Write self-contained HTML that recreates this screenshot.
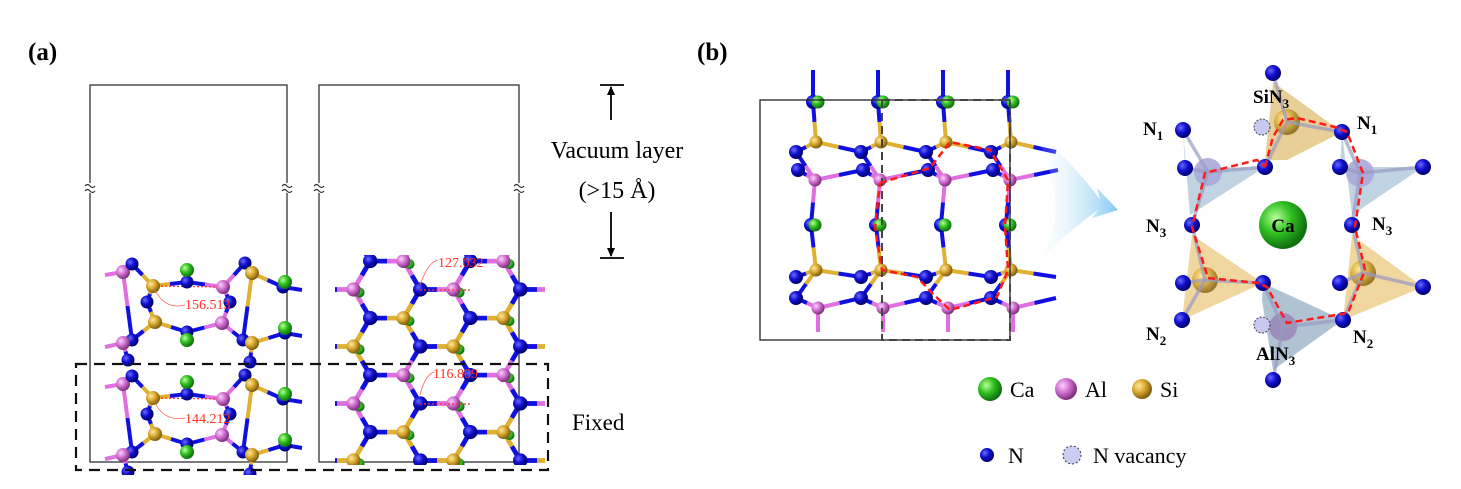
<!DOCTYPE html>
<html><head><meta charset="utf-8"><style>
html,body{margin:0;padding:0;background:#fff;width:1461px;height:489px;overflow:hidden;}
svg{display:block;}
text{font-family:"Liberation Serif",serif;}
</style></head><body>
<svg id="s" width="1461" height="489" viewBox="0 0 1461 489" xmlns="http://www.w3.org/2000/svg">
<defs>
<radialGradient id="gB" cx="35%" cy="35%" r="65%"><stop offset="0" stop-color="#6a6aff"/><stop offset=".5" stop-color="#1010d0"/><stop offset="1" stop-color="#000070"/></radialGradient>
<radialGradient id="gG" cx="35%" cy="35%" r="65%"><stop offset="0" stop-color="#b8ff9a"/><stop offset=".5" stop-color="#30c020"/><stop offset="1" stop-color="#107010"/></radialGradient>
<radialGradient id="gP" cx="35%" cy="35%" r="65%"><stop offset="0" stop-color="#ffd0ff"/><stop offset=".5" stop-color="#d070d0"/><stop offset="1" stop-color="#803080"/></radialGradient>
<radialGradient id="gY" cx="35%" cy="35%" r="65%"><stop offset="0" stop-color="#ffe9a0"/><stop offset=".5" stop-color="#d8a830"/><stop offset="1" stop-color="#806010"/></radialGradient>
<linearGradient id="arr" x1="0" y1="0" x2="1" y2="0"><stop offset="0" stop-color="#fff" stop-opacity="0"/><stop offset="1" stop-color="#6cc0f0"/></linearGradient>
<clipPath id="cR"><rect x="335" y="255" width="210" height="210"/></clipPath>
<clipPath id="cA"><rect x="0" y="0" width="700" height="475"/></clipPath>
</defs>

<!-- (a) -->
<text x="28" y="60" font-size="25" font-weight="bold">(a)</text>
<g stroke="#333" stroke-width="1.3" fill="none">
<rect x="90" y="85" width="197" height="377"/>
<rect x="319" y="85" width="200" height="377"/>
</g>
<g id="breaks"></g>
<g clip-path="url(#cA)"><g id="la"></g></g>
<g id="ra" clip-path="url(#cR)"></g>
<rect x="76" y="364" width="472" height="106" fill="none" stroke="#111" stroke-width="2.2" stroke-dasharray="11,7"/>
<g stroke="#000" stroke-width="1.8">
<line x1="600" y1="85" x2="624" y2="85"/><line x1="611" y1="87" x2="611" y2="120"/>
<line x1="600" y1="258" x2="624" y2="258"/><line x1="611" y1="212" x2="611" y2="256"/>
</g>
<path d="M611 86 l-4 9 h8z M611 257 l-4 -9 h8z" fill="#000"/>
<text x="617" y="158" font-size="24" text-anchor="middle">Vacuum layer</text>
<text x="617" y="198" font-size="24" text-anchor="middle">(&gt;15 Å)</text>
<text x="572" y="430" font-size="23">Fixed</text>
<g fill="#ff3020" font-size="14">
<text x="185" y="309">156.513</text>
<text x="185" y="423">144.212</text>
<text x="438" y="267">127.032</text>
<text x="433" y="378">116.809</text>
</g>
<g fill="none" stroke="#ff6050" stroke-width="0.8">
<path d="M155 290 Q165 310 185 305"/>
<path d="M155 403 Q165 422 185 418"/>
<path d="M420 285 Q428 262 438 260"/>
<path d="M420 395 Q425 375 434 372"/>
</g>

<!-- (b) -->
<text x="697" y="60" font-size="25" font-weight="bold">(b)</text>
<g id="lb"></g>
<rect x="760" y="100" width="250" height="240" fill="none" stroke="#222" stroke-width="1.3"/>
<path d="M882 100 H1010 V340 H882 Z" fill="none" stroke="#444" stroke-width="2" stroke-dasharray="8,5"/>
<polyline fill="none" stroke="#ff1a1a" stroke-width="2.5" stroke-dasharray="7,4" points="880,183 930,168 950,142 990,150 1008,180 1005,227 1008,270 997,297 950,310 932,293 917,277 882,270 875,227 880,183"/>
<path d="M1030 125 Q1080 170 1100 200 L1097 188 L1118 210 L1092 218 L1098 210 Q1070 230 1040 260 Q1075 205 1030 125Z" fill="url(#arr)" opacity=".85"/>

<g id="ring"></g>
<polyline fill="none" stroke="#ff1a1a" stroke-width="2.5" stroke-dasharray="7,4" points="1265,167 1273,137 1283,120 1297,118 1335,127 1347,132 1363,173 1355,227 1365,270 1348,313 1287,323 1267,287 1258,283 1208,278 1192,227 1205,173 1257,160 1265,167"/>
<g font-size="19" font-weight="bold">
<text x="1253" y="103">SiN<tspan font-size="13" dy="5">3</tspan></text>
<text x="1143" y="135">N<tspan font-size="13" dy="5">1</tspan></text>
<text x="1357" y="129">N<tspan font-size="13" dy="5">1</tspan></text>
<text x="1146" y="232">N<tspan font-size="13" dy="5">3</tspan></text>
<text x="1372" y="230">N<tspan font-size="13" dy="5">3</tspan></text>
<text x="1146" y="340">N<tspan font-size="13" dy="5">2</tspan></text>
<text x="1353" y="343">N<tspan font-size="13" dy="5">2</tspan></text>
<text x="1256" y="360">AlN<tspan font-size="13" dy="5">3</tspan></text>
<text x="1283" y="232" text-anchor="middle">Ca</text>
</g>

<circle cx="990" cy="389" r="12" fill="url(#gG)"/>
<text x="1010" y="397" font-size="22">Ca</text>
<circle cx="1066" cy="389" r="11" fill="url(#gP)"/>
<text x="1085" y="397" font-size="22">Al</text>
<circle cx="1142" cy="389" r="10" fill="url(#gY)"/>
<text x="1160" y="397" font-size="22">Si</text>
<circle cx="987" cy="455" r="7" fill="url(#gB)"/>
<text x="1008" y="463" font-size="22">N</text>
<circle cx="1072" cy="455" r="9" fill="#ccccf0" stroke="#333" stroke-dasharray="2,2"/>
<text x="1093" y="463" font-size="22">N vacancy</text>
</svg>
<script>
const NS="http://www.w3.org/2000/svg";
function el(p,t,a){const e=document.createElementNS(NS,t);for(const k in a)e.setAttribute(k,a[k]);p.appendChild(e);return e;}
const G={B:"url(#gB)",G:"url(#gG)",P:"url(#gP)",Y:"url(#gY)"};
const C={B:"#1010e0",G:"#30c020",P:"#e070e0",Y:"#e0b030"};
function atom(p,x,y,t,r){el(p,"circle",{cx:x,cy:y,r:r||(t=="B"?6.5:7),fill:G[t]});}
function bond(p,a,b,w){
 const mx=(a[0]+b[0])/2,my=(a[1]+b[1])/2;
 el(p,"line",{x1:a[0],y1:a[1],x2:mx,y2:my,stroke:C[a[2]],"stroke-width":w||4});
 el(p,"line",{x1:mx,y1:my,x2:b[0],y2:b[1],stroke:C[b[2]],"stroke-width":w||4});
}
const br=document.getElementById("breaks");
[90,287,319,519].forEach(x=>{el(br,"rect",{x:x-6,y:183,width:12,height:10,fill:"#fff"});
 el(br,"path",{d:`M${x-5} 186 q2.5 -3 5 0 t5 0 M${x-5} 191 q2.5 -3 5 0 t5 0`,fill:"none",stroke:"#333","stroke-width":1.2});});
const la=document.getElementById("la");
for(const dy of [0,112]){
 const A={p1:[123,272,"P"],b1:[132,264,"B"],g1:[153,286,"Y"],bc:[187,282,"B"],gc:[187,270,"G"],p2:[223,287,"P"],b2:[245,263,"B"],g2:[252,273,"Y"],b3:[283,287,"B"],gr:[285,282,"G"],
 b4:[147,302,"B"],b5:[230,302,"B"],g3:[155,322,"Y"],b6:[187,332,"B"],gd:[187,340,"G"],p3:[222,323,"P"],
 b7:[132,340,"B"],p4:[123,343,"P"],b8:[243,340,"B"],g4:[252,343,"Y"],b9:[285,333,"B"],gr2:[285,328,"G"],
 l1:[105,275,"P"],l2:[105,347,"P"],r1:[302,290,"B"],r2:[302,336,"B"],b10:[128,360,"B"],b11:[250,362,"B"]};
 for(const k in A){A[k]=[A[k][0],A[k][1]+dy,A[k][2]];}
 const E=[["l1","p1"],["p1","b1"],["b1","g1"],["g1","bc"],["bc","p2"],["p2","b2"],["b2","g2"],["g2","b3"],["b3","r1"],["g1","b4"],["b4","g3"],["g3","b6"],["b6","p3"],["p3","b5"],["b5","p2"],["g3","b7"],["b7","p4"],["p4","l2"],["p3","b8"],["b8","g4"],["g4","b9"],["b9","r2"],["p4","b10"],["g4","b11"],["p1","b7"],["g2","b8"]];
 E.forEach(e=>bond(la,A[e[0]],A[e[1]]));
 el(la,"line",{x1:153,y1:286+dy,x2:223,y2:287+dy,stroke:"#ff3030","stroke-width":1.2,"stroke-dasharray":"2,2"});
 for(const k in A){if(k[0]=="l"||k[0]=="r")continue;atom(la,A[k][0],A[k][1],A[k][2]);}
}
const ra=document.getElementById("ra");
const R=33,edges=[],verts={};
for(let i=-2;i<=3;i++)for(let j=-2;j<=3;j++){
 const cx=437+50*i,cy=318+57*j+(Math.abs(i)%2?-28.5:0);
 const vs=[];for(let k=0;k<6;k++){const a=k*Math.PI/3;const x=Math.round((cx+R*Math.cos(a))*10)/10,y=Math.round((cy+R*Math.sin(a))*10)/10;
  const key=Math.round(x)+","+Math.round(y);const t=(k%2==0)?"B":((Math.round(y/57)%2==0)?"Y":"P");
  if(!verts[key])verts[key]=[x,y,t];vs.push(verts[key]);}
 for(let k=0;k<6;k++)edges.push([vs[k],vs[(k+1)%6]]);
}
edges.forEach(e=>bond(ra,e[0],e[1],4.5));
Object.values(verts).forEach(v=>{if(v[2]!="B")el(ra,"circle",{cx:v[0]+6,cy:v[1]+3,r:5,fill:G.G});});
Object.values(verts).forEach(v=>atom(ra,v[0],v[1],v[2],v[2]=="B"?7:7));
el(ra,"line",{x1:420,y1:290,x2:470,y2:290,stroke:"#ff3030","stroke-width":1.2,"stroke-dasharray":"2,2"});
el(ra,"line",{x1:420,y1:404,x2:470,y2:404,stroke:"#ff3030","stroke-width":1.2,"stroke-dasharray":"2,2"});
const lb=document.getElementById("lb");
for(const cx of [813,878,943,1008]){
 const P={t:[cx,70,"B"],b0:[cx,102,"B"],g0:[cx+5,102,"G"],g1:[cx+3,142,"Y"],bL:[cx-17,152,"B"],bR:[cx+48,152,"B"],bL2:[cx-15,170,"B"],bR2:[cx+50,170,"B"],p1:[cx+2,180,"P"],
 bm:[cx-2,225,"B"],gm:[cx+2,225,"G"],g2:[cx+3,270,"Y"],cL:[cx-17,277,"B"],cR:[cx+48,277,"B"],cL2:[cx-17,298,"B"],cR2:[cx+48,298,"B"],p2:[cx+5,308,"P"],pd:[cx+5,332,"P"]};
 const E=[["t","b0"],["b0","g1"],["g1","bL"],["g1","bR"],["bL2","p1"],["p1","bR2"],["p1","bm"],["bm","g2"],["g2","cL"],["g2","cR"],["cL2","p2"],["p2","cR2"],["p2","pd"],["bL","p1"],["g2","cL2"]];
 E.forEach(e=>bond(lb,P[e[0]],P[e[1]],4));
 ["b0","g0","g1","bL","bL2","p1","bm","gm","g2","cL","cL2","p2"].forEach(k=>atom(lb,P[k][0],P[k][1],P[k][2],P[k][2]=="B"?7:6.5));
}
const rg=document.getElementById("ring");
function tet(pts,col){el(rg,"polygon",{points:pts,fill:col,"fill-opacity":.5,stroke:"none"});}
tet("1183,130 1185,168 1265,167 1190,215","#7fa8c8");
tet("1342,132 1340,167 1423,167 1352,215","#7fa8c8");
tet("1192,235 1182,320 1263,283","#e0b040");
tet("1352,235 1343,320 1423,287","#e0b040");
tet("1263,283 1343,320 1273,370 1262,300","#5f88a8");
tet("1265,160 1273,82 1342,132 1287,160","#d0a030");
el(rg,"circle",{cx:1208,cy:172,r:14,fill:"#a8a8d8","fill-opacity":.9});
el(rg,"circle",{cx:1360,cy:173,r:14,fill:"#a8a8d8","fill-opacity":.9});
el(rg,"circle",{cx:1205,cy:280,r:13,fill:"url(#gY)","fill-opacity":.8});
el(rg,"circle",{cx:1363,cy:273,r:13,fill:"url(#gY)","fill-opacity":.8});
el(rg,"circle",{cx:1283,cy:327,r:14,fill:"#9a8ab8","fill-opacity":.9});
el(rg,"circle",{cx:1287,cy:122,r:13,fill:"url(#gY)","fill-opacity":.8});
[[1208,172,1183,130],[1208,172,1185,168],[1208,172,1265,167],[1208,172,1192,225],[1360,173,1342,132],[1360,173,1340,167],[1360,173,1423,167],[1360,173,1352,225],
 [1205,280,1192,225],[1205,280,1183,283],[1205,280,1263,283],[1205,280,1182,320],[1363,273,1352,225],[1363,273,1340,283],[1363,273,1423,287],[1363,273,1343,320],
 [1283,327,1263,283],[1283,327,1343,320],[1283,327,1273,380],[1287,122,1273,73],[1287,122,1342,132],[1287,122,1265,167]].forEach(b=>el(rg,"line",{x1:b[0],y1:b[1],x2:b[2],y2:b[3],stroke:"#9a9ac0","stroke-width":3.5,"stroke-opacity":.7}));
[[1273,73],[1183,130],[1342,132],[1185,168],[1265,167],[1340,167],[1423,167],[1192,225],[1352,225],[1183,283],[1263,283],[1340,283],[1423,287],[1182,320],[1343,320],[1273,380]].forEach(p=>atom(rg,p[0],p[1],"B",8));
el(rg,"circle",{cx:1262,cy:127,r:8,fill:"#c8c8f0",stroke:"#444","stroke-dasharray":"2,1.5"});
el(rg,"circle",{cx:1262,cy:325,r:8,fill:"#c8c8f0",stroke:"#444","stroke-dasharray":"2,1.5"});
el(rg,"circle",{cx:1283,cy:225,r:24,fill:"url(#gG)"});
</script>
</body></html>
